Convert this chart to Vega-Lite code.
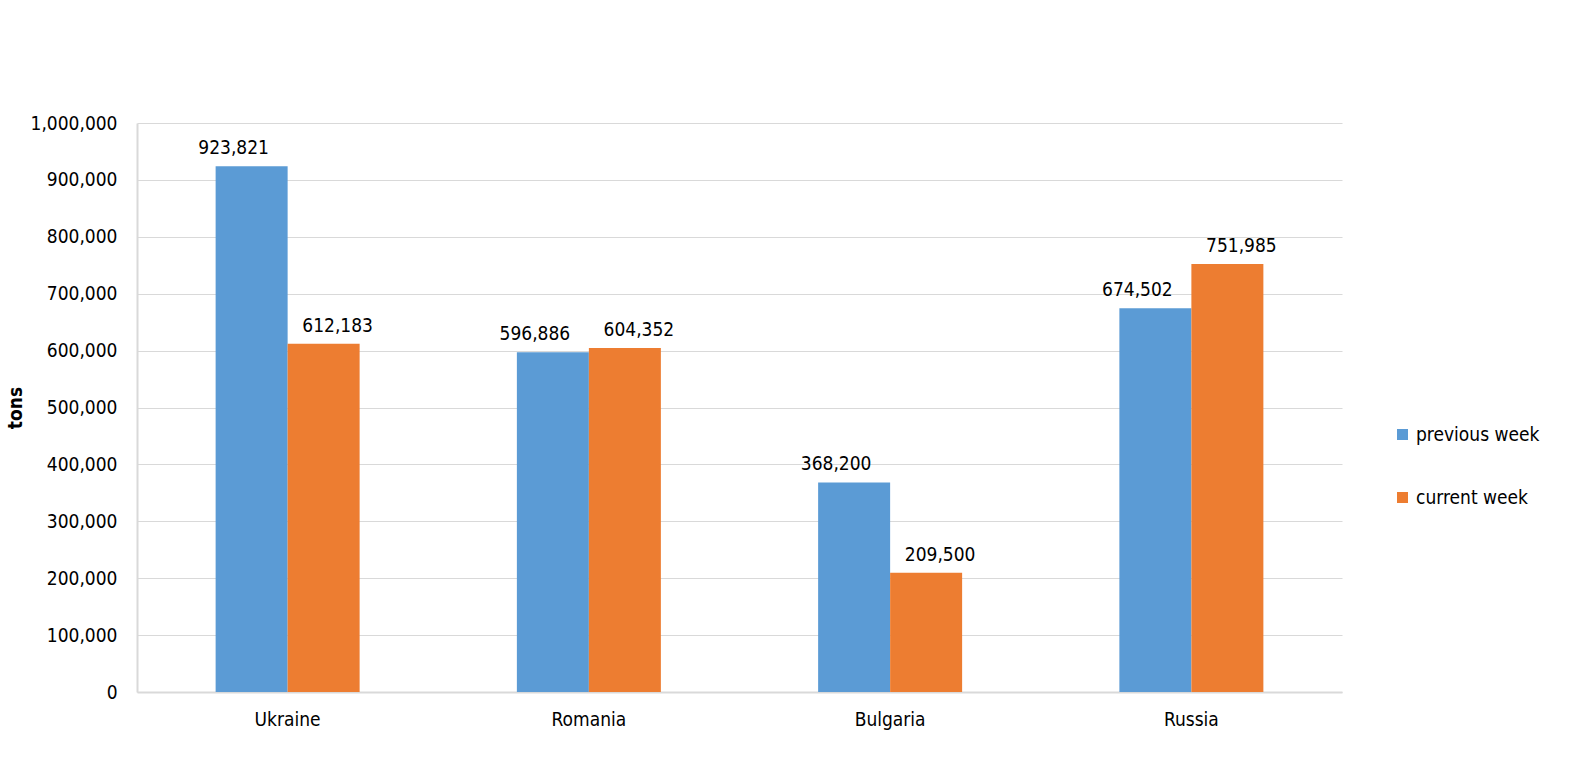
{
  "$schema": "https://vega.github.io/schema/vega-lite/v6.json",
  "autosize": {"type": "none"},
  "padding": {"left": 137, "top": 123, "right": 244, "bottom": 68},
  "width": 1205,
  "height": 569,
  "background": "white",
  "config": {
    "view": {"stroke": null},
    "font": "DejaVu Sans Condensed, DejaVu Sans",
    "text": {"font": "DejaVu Sans Condensed, DejaVu Sans"}
  },
  "data": {
    "values": [
      {"country": "Ukraine", "week": "previous week", "tons": 923821},
      {"country": "Ukraine", "week": "current week", "tons": 612183},
      {"country": "Romania", "week": "previous week", "tons": 596886},
      {"country": "Romania", "week": "current week", "tons": 604352},
      {"country": "Bulgaria", "week": "previous week", "tons": 368200},
      {"country": "Bulgaria", "week": "current week", "tons": 209500},
      {"country": "Russia", "week": "previous week", "tons": 674502},
      {"country": "Russia", "week": "current week", "tons": 751985}
    ]
  },
  "encoding": {
    "x": {
      "field": "country", "type": "nominal",
      "sort": ["Ukraine", "Romania", "Bulgaria", "Russia"],
      "scale": {"paddingInner": 0.522, "paddingOuter": 0.261},
      "axis": {
        "title": null, "labelAngle": 0, "ticks": false, "tickSize": 0,
        "labelPadding": 18, "labelFontSize": 19, "labelColor": "#000000",
        "labelFont": "DejaVu Sans Condensed, DejaVu Sans",
        "domainColor": "#d9d9d9", "domainWidth": 2, "grid": false
      }
    },
    "xOffset": {
      "field": "week", "type": "nominal",
      "sort": ["previous week", "current week"],
      "scale": {"paddingInner": 0, "paddingOuter": 0}
    },
    "y": {
      "field": "tons", "type": "quantitative",
      "scale": {"domain": [0, 1000000], "nice": false},
      "axis": {
        "title": "tons", "titleFontSize": 19, "titleFontWeight": "bold",
        "titleFont": "DejaVu Sans Condensed, DejaVu Sans", "titleColor": "#000000",
        "titlePadding": 5,
        "values": [0, 100000, 200000, 300000, 400000, 500000, 600000, 700000, 800000, 900000, 1000000],
        "format": ",d", "ticks": false, "tickSize": 0, "labelPadding": 20,
        "labelFontSize": 19, "labelColor": "#000000",
        "labelFont": "DejaVu Sans Condensed, DejaVu Sans",
        "domainColor": "#d9d9d9", "domainWidth": 2,
        "grid": true, "gridColor": "#d9d9d9", "gridWidth": 1
      }
    }
  },
  "layer": [
    {
      "mark": {"type": "bar"},
      "encoding": {
        "color": {
          "field": "week", "type": "nominal",
          "scale": {"domain": ["previous week", "current week"], "range": ["#5B9BD5", "#ED7D31"]},
          "legend": {
            "title": null, "orient": "none", "legendX": 1256, "legendY": 302,
            "direction": "vertical", "symbolType": "square", "symbolSize": 121,
            "symbolStrokeWidth": 0, "labelFontSize": 19, "labelColor": "#000000",
            "labelFont": "DejaVu Sans Condensed, DejaVu Sans",
            "labelOffset": 4, "rowPadding": 43, "padding": 0
          }
        }
      }
    },
    {
      "transform": [{"filter": "datum.week == 'previous week'"}],
      "mark": {"type": "text", "baseline": "alphabetic", "dy": -12, "dx": -18, "fontSize": 19, "color": "#000000"},
      "encoding": {"text": {"field": "tons", "type": "quantitative", "format": ","}}
    },
    {
      "transform": [{"filter": "datum.week == 'current week'"}],
      "mark": {"type": "text", "baseline": "alphabetic", "dy": -12, "dx": 14, "fontSize": 19, "color": "#000000"},
      "encoding": {"text": {"field": "tons", "type": "quantitative", "format": ","}}
    }
  ]
}
